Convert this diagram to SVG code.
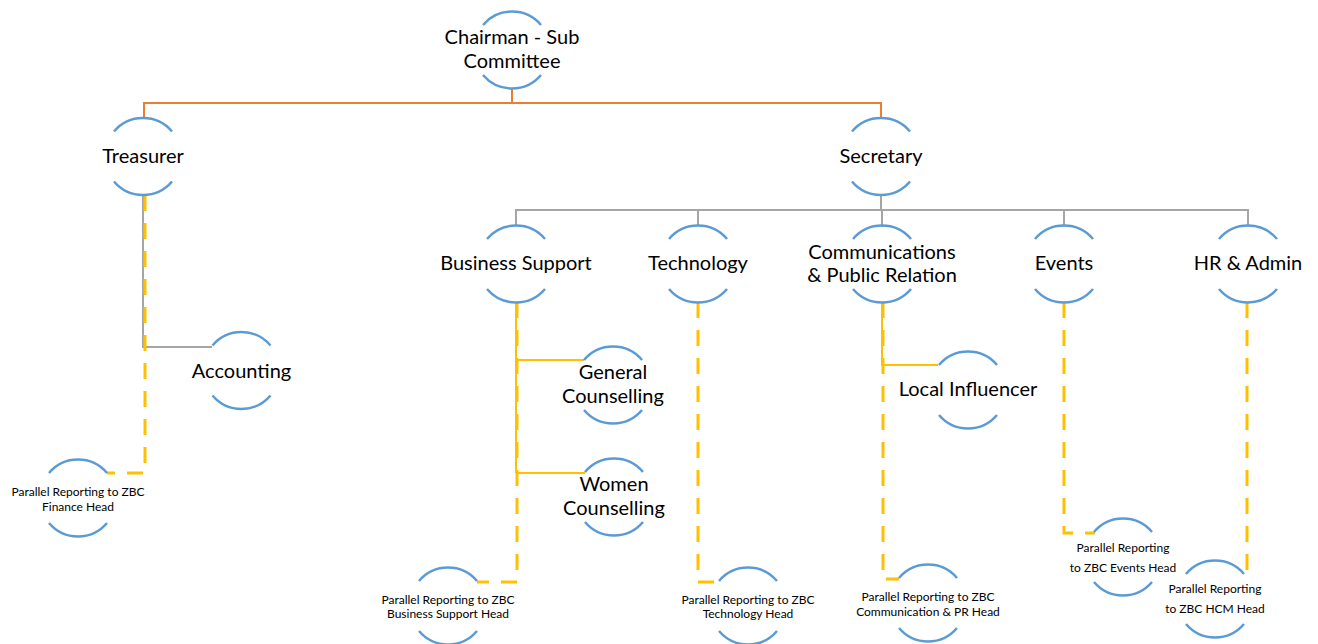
<svg xmlns="http://www.w3.org/2000/svg" xmlns:xlink="http://www.w3.org/1999/xlink" width="1318" height="644" viewBox="0 0 1318 644">
  <style>
    .ring { fill: none; stroke: #5B9BD5; stroke-width: 2.5; }
    .lbl { font-family: Lato, "Liberation Sans", sans-serif; font-size: 20px; fill: #000; text-anchor: middle; }
    .sm { font-family: Lato, "Liberation Sans", sans-serif; font-size: 12px; fill: #000; text-anchor: middle; }
    .top { fill: none; stroke: #ED7D31; stroke-width: 2; }
    .sub { fill: none; stroke: #A5A5A5; stroke-width: 2; }
    .dept { fill: none; stroke: #FFC000; stroke-width: 2; }
    .par { fill: none; stroke: #FFC000; stroke-width: 3; stroke-dasharray: 16 12; }
  </style>
  <defs>
    <!-- open circle: only the upper and lower arcs are stroked -->
    <path id="ring" d="M-29,-25 A38,38 0 0 1 29,-25 M-29,25 A38,38 0 0 0 29,25"/>
  </defs>

  <rect width="1318" height="644" fill="#fff"/>

  <g id="connectors">
    <!-- chairman to treasurer / secretary -->
    <path class="top" d="M512,88 V103 M144,119 V103 H881 V118"/>
    <!-- treasurer to accounting -->
    <path class="sub" d="M143,195 V347 H212"/>
    <!-- secretary to departments -->
    <path class="sub" d="M881,195 V210 M516,226 V210 H1248 V226 M698,210 V226 M882,210 V227 M1064,210 V226"/>
    <!-- department sub-units -->
    <path class="dept" d="M516,302 V473 M516,360 H584 M516,473 H585"/>
    <path class="dept" d="M882,302 V365 H938"/>
    <!-- parallel reporting lines -->
    <path class="par" d="M145,195 V473 H107"/>
    <path class="par" d="M517,302 V582 H477"/>
    <path class="par" d="M698,302 V582 H715"/>
    <path class="par" d="M883,302 V579 H899"/>
    <path class="par" d="M1064,302 V533 H1095"/>
    <path class="par" d="M1247,302 V571"/>
  </g>

  <g id="chairman">
    <use xlink:href="#ring" class="ring" x="512" y="50"/>
    <text class="lbl" x="512" y="44">Chairman - Sub</text>
    <text class="lbl" x="512" y="68">Committee</text>
  </g>
  <g id="treasurer">
    <use xlink:href="#ring" class="ring" x="143" y="156.5"/>
    <text class="lbl" x="143" y="163">Treasurer</text>
  </g>
  <g id="secretary">
    <use xlink:href="#ring" class="ring" x="881" y="156.5"/>
    <text class="lbl" x="881" y="163">Secretary</text>
  </g>
  <g id="accounting">
    <use xlink:href="#ring" class="ring" x="241.5" y="370.5"/>
    <text class="lbl" x="241.5" y="378">Accounting</text>
  </g>
  <g id="finance-head">
    <use xlink:href="#ring" class="ring" x="78" y="498"/>
    <text class="sm" x="78" y="496">Parallel Reporting to ZBC</text>
    <text class="sm" x="78" y="511">Finance Head</text>
  </g>
  <g id="business-support">
    <use xlink:href="#ring" class="ring" x="516" y="264"/>
    <text class="lbl" x="516" y="270">Business Support</text>
  </g>
  <g id="technology">
    <use xlink:href="#ring" class="ring" x="698" y="264"/>
    <text class="lbl" x="698" y="270">Technology</text>
  </g>
  <g id="communications">
    <use xlink:href="#ring" class="ring" x="882" y="264"/>
    <text class="lbl" x="882" y="259">Communications</text>
    <text class="lbl" x="882" y="282">&amp; Public Relation</text>
  </g>
  <g id="events">
    <use xlink:href="#ring" class="ring" x="1064" y="264"/>
    <text class="lbl" x="1064" y="270">Events</text>
  </g>
  <g id="hr-admin">
    <use xlink:href="#ring" class="ring" x="1248" y="264"/>
    <text class="lbl" x="1248" y="270">HR &amp; Admin</text>
  </g>
  <g id="general-counselling">
    <use xlink:href="#ring" class="ring" x="613" y="385"/>
    <text class="lbl" x="613" y="379">General</text>
    <text class="lbl" x="613" y="403">Counselling</text>
  </g>
  <g id="women-counselling">
    <use xlink:href="#ring" class="ring" x="614" y="497"/>
    <text class="lbl" x="614" y="491">Women</text>
    <text class="lbl" x="614" y="515">Counselling</text>
  </g>
  <g id="local-influencer">
    <use xlink:href="#ring" class="ring" x="968" y="390"/>
    <text class="lbl" x="968" y="396">Local Influencer</text>
  </g>
  <g id="business-support-head">
    <use xlink:href="#ring" class="ring" x="448" y="606"/>
    <text class="sm" x="448" y="604">Parallel Reporting to ZBC</text>
    <text class="sm" x="448" y="618">Business Support Head</text>
  </g>
  <g id="technology-head">
    <use xlink:href="#ring" class="ring" x="748" y="606"/>
    <text class="sm" x="748" y="604">Parallel Reporting to ZBC</text>
    <text class="sm" x="748" y="618">Technology Head</text>
  </g>
  <g id="communication-pr-head">
    <use xlink:href="#ring" class="ring" x="928" y="603"/>
    <text class="sm" x="928" y="601">Parallel Reporting to ZBC</text>
    <text class="sm" x="928" y="616">Communication &amp; PR Head</text>
  </g>
  <g id="events-head">
    <use xlink:href="#ring" class="ring" x="1123" y="557"/>
    <text class="sm" x="1123" y="552">Parallel Reporting</text>
    <text class="sm" x="1123" y="572">to ZBC Events Head</text>
  </g>
  <g id="hcm-head">
    <use xlink:href="#ring" class="ring" x="1215" y="599"/>
    <text class="sm" x="1215" y="593">Parallel Reporting</text>
    <text class="sm" x="1215" y="613">to ZBC HCM Head</text>
  </g>
</svg>
